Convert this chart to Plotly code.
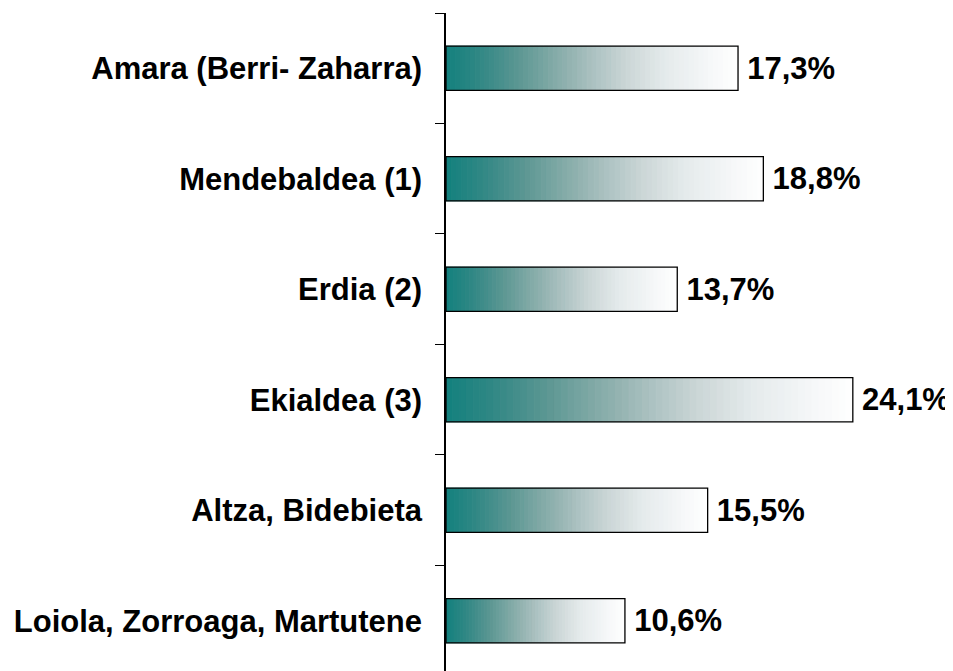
import plotly.graph_objects as go

categories = [
    "Amara (Berri- Zaharra)",
    "Mendebaldea (1)",
    "Erdia (2)",
    "Ekialdea (3)",
    "Altza, Bidebieta",
    "Loiola, Zorroaga, Martutene",
]
values = [17.3, 18.8, 13.7, 24.1, 15.5, 10.6]

# gradient styling (teal -> grey -> white)
N_SEG = 60
GRAD_STOPS = [
    (0.00, (18, 128, 126)),
    (0.12, (50, 136, 133)),
    (0.25, (92, 151, 147)),
    (0.40, (140, 175, 172)),
    (0.50, (170, 192, 192)),
    (0.62, (203, 214, 214)),
    (0.75, (228, 234, 235)),
    (0.90, (245, 247, 248)),
    (1.00, (255, 255, 255)),
]


def seg_color(k):
    t = (k + 0.5) / N_SEG
    for (t0, c0), (t1, c1) in zip(GRAD_STOPS[:-1], GRAD_STOPS[1:]):
        if t0 <= t <= t1:
            f = (t - t0) / (t1 - t0)
            r, g, b = (round(a + (b_ - a) * f) for a, b_ in zip(c0, c1))
            return f"rgb({r},{g},{b})"
    return "rgb(255,255,255)"


FONT = dict(family="Liberation Sans, Arial", size=31, color="black", weight="bold")

fig = go.Figure()
BAR_W = 0.4
for k in range(N_SEG):
    col = seg_color(k)
    fig.add_trace(go.Bar(
        y=categories,
        x=[v / N_SEG for v in values],
        base=[v * k / N_SEG for v in values],
        orientation="h",
        width=BAR_W,
        marker=dict(color=col, line=dict(width=1, color=col)),
        hoverinfo="skip",
        showlegend=False,
    ))

# outline + value labels
fig.add_trace(go.Bar(
    y=categories,
    x=values,
    orientation="h",
    width=BAR_W,
    marker=dict(color="rgba(0,0,0,0)", line=dict(color="black", width=1.3)),
    texttemplate="\u2009%{x:.1f}%",
    textposition="outside",
    constraintext="none",
    cliponaxis=False,
    textfont=FONT,
    showlegend=False,
))

fig.update_layout(
    width=945,
    height=663,
    margin=dict(l=438, r=20, t=5, b=0),
    barmode="overlay",
    separators=",.",
    paper_bgcolor="white",
    plot_bgcolor="white",
    xaxis=dict(visible=False, range=[0, 28.85], showgrid=False, zeroline=False),
    yaxis=dict(
        categoryorder="array",
        categoryarray=categories,
        range=[5.455, -0.5],
        tickson="boundaries",
        ticks="outside",
        ticklen=9,
        tickwidth=1.3,
        tickcolor="black",
        showline=True,
        linecolor="black",
        linewidth=1.5,
        showgrid=False,
        zeroline=False,
        ticklabelstandoff=16,
        tickfont=FONT,
    ),
)

fig.write_html("out.html")
